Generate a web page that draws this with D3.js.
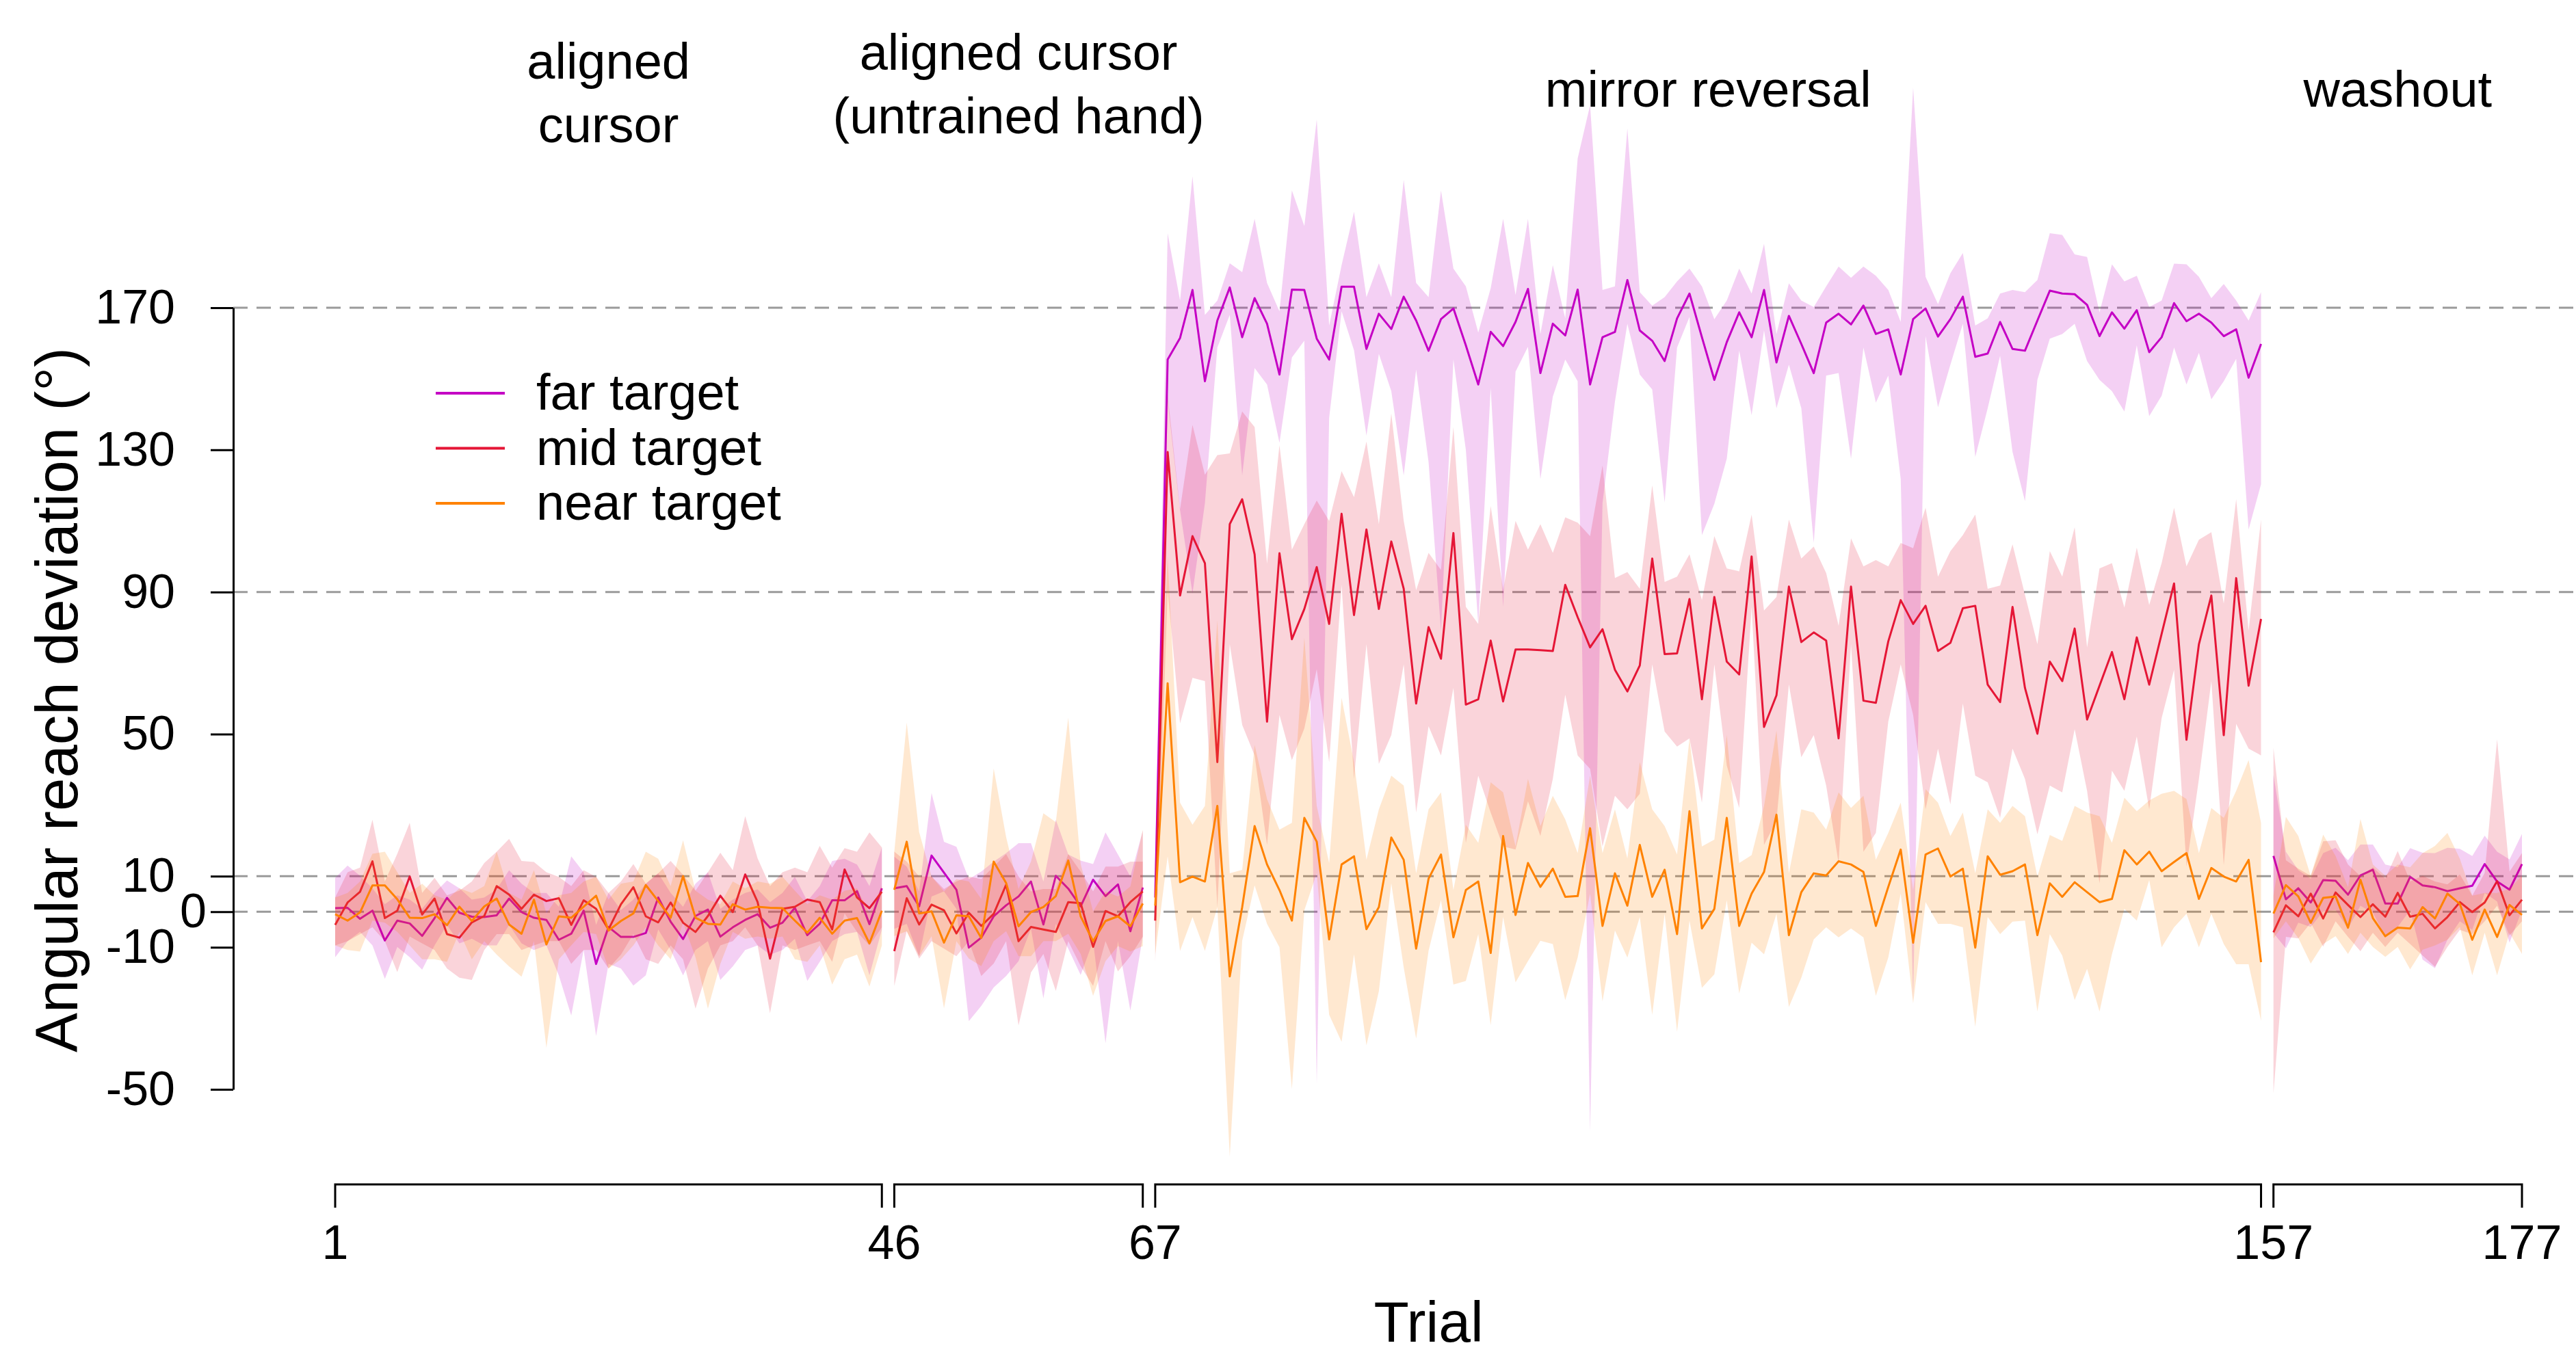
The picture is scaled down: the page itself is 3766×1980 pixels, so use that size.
<!DOCTYPE html>
<html>
<head>
<meta charset="utf-8">
<script src="https://cdn.jsdelivr.net/npm/d3@7"></script>
<style>
  body { margin: 0; background: #ffffff; }
  text { font-family: "Liberation Sans", Arial, sans-serif; fill: #000; }
</style>
</head>
<body>
<div id="chart"></div>
<script>
// Blocks of the experiment (trial numbers)
var blockNames = [["aligned", "cursor"], ["aligned cursor", "(untrained hand)"], ["mirror reversal"], ["washout"]];
var blockStart = [1, 46, 67, 157];
var blockEnd = [45, 66, 156, 177];

var targets = ["far target", "mid target", "near target"];
var xTicks = [1, 46, 67, 157, 177];
var yTicks = [-50, -10, 0, 10, 50, 90, 130, 170];
var refLines = [0, 10, 90, 170];

// far target: mean and confidence band, one value per trial (1-177)
var farMean = [
  1.0, 1.1, -2.0, 0.3, -8.1, -2.5, -3.3, -6.8, -1.8, 3.9,
  -0.3, -1.4, -1.5, -1.0, 3.7, -0.1, -1.7, -2.3, -7.9, -6.2,
  0.3, -14.7, -4.3, -7.1, -7.1, -6.0, 4.0, -2.8, -7.7, -1.2,
  0.6, -7.0, -4.4, -2.3, -0.7, -4.5, -3.1, 1.1, -6.6, -3.4,
  3.2, 3.2, 5.8, -3.5, 6.6,
  6.6, 7.2, 1.5, 15.8, 11.0, 6.2, -10.1, -7.3, -1.3, 1.8,
  4.3, 8.5, -3.6, 10.1, 6.5, 1.5, 9.0, 4.4, 7.7, -5.5, 6.8,
  4.0, 155.4, 161.5, 175.0, 149.3, 166.4, 175.7, 161.7, 172.7, 165.5,
  151.2, 175.1, 175.0, 161.3, 155.4, 175.9, 175.9, 158.4, 168.3, 164.0,
  173.1, 166.4, 157.9, 166.8, 169.8, 159.4, 148.4, 163.2, 159.2, 166.0,
  175.3, 151.6, 165.5, 162.2, 175.1, 148.4, 161.7, 163.2, 177.8, 163.6,
  160.7, 155.0, 167.0, 174.0, 161.7, 149.7, 160.3, 168.7, 161.7, 175.0,
  154.6, 167.7, 159.8, 151.6, 165.8, 168.3, 165.3, 170.6, 162.6, 163.9,
  151.2, 166.8, 169.8, 161.9, 166.8, 173.1, 156.2, 157.1, 166.0, 158.4,
  157.9, 166.4, 174.8, 174.0, 173.8, 170.8, 162.0, 168.7, 164.1, 169.3,
  157.5, 161.7, 171.3, 166.2, 168.3, 165.8, 162.0, 163.9, 150.3, 159.8,
  15.7, 3.5, 6.6, 2.6, 8.9, 8.7, 4.8, 10.2, 11.8, 2.3,
  2.3, 9.8, 7.4, 6.9, 5.8, 6.6, 7.3, 13.4, 8.5, 6.2, 13.4
];
var farLo = [
  -12.8, -8.3, -5.7, -9.5, -18.9, -9.9, -12.8, -16.3, -9.5, -3.7,
  -8.9, -7.6, -9.5, -9.5, -3.7, -8.9, -10.8, -9.5, -17.9, -29.2,
  -10.8, -35.0, -14.7, -16.0, -20.8, -17.9, -5.0, -10.8, -17.9, -10.8,
  -8.3, -19.2, -15.4, -10.8, -9.5, -12.1, -10.8, -7.6, -19.5, -14.1,
  -8.3, -6.3, -5.7, -17.9, -5.0,
  -4.8, -3.4, -12.5, 4.3, 5.7, 0.8, -30.8, -26.5, -21.3, -18.1,
  -13.9, -4.8, -24.4, -3.4, -10.4, -17.8, -8.3, -37.0, -8.3, -27.8, -7.0,
  -10.0, 143.6, 113.0, 89.6, 115.0, 158.8, 168.0, 122.8, 153.0, 148.4,
  132.0, 156.0, 160.7, -48.5, 139.0, 169.0, 158.0, 134.0, 157.0, 146.5,
  122.8, 152.6, 126.6, 79.0, 155.4, 130.0, 81.0, 147.4, 85.8, 152.0,
  159.0, 121.8, 145.0, 155.4, 149.3, -62.0, 115.0, 143.6, 165.5, 151.2,
  147.0, 115.2, 158.8, 167.4, 106.0, 114.8, 127.5, 157.9, 139.8, 163.6,
  141.7, 154.0, 141.7, 103.8, 150.9, 151.6, 127.5, 158.8, 143.3, 150.9,
  121.8, -25.0, 162.0, 142.0, 154.0, 165.5, 128.0, 141.7, 156.5, 129.4,
  115.6, 149.7, 161.3, 162.6, 165.5, 155.0, 149.7, 146.5, 140.8, 159.4,
  139.5, 145.2, 158.8, 148.4, 157.3, 144.2, 149.3, 155.6, 107.6, 120.3,
  -6.0, -10.3, -3.1, -4.3, 0.1, 0.5, -4.7, 1.7, -0.3, -7.1,
  -4.3, 0.5, -13.5, -15.9, -7.9, -2.7, -5.1, 5.3, 2.9, -8.7, 0.5
];
var farHi = [
  9.5, 13.0, 10.1, 6.6, 2.1, 4.6, 3.4, 0.8, 5.3, 8.8,
  6.6, 3.4, 4.0, 6.3, 11.7, 7.9, 5.3, 5.3, 1.4, 15.6,
  11.1, -3.7, 5.3, 0.5, 3.4, 7.9, 10.8, 5.3, 1.4, 7.9,
  11.1, 0.8, 3.4, 5.3, 6.3, 2.7, 5.3, 9.8, 3.0, 7.2,
  14.3, 14.9, 13.3, 7.2, 18.1,
  15.5, 12.7, 5.7, 33.4, 19.7, 18.3, 9.2, 11.3, 14.1, 16.5,
  19.3, 19.3, 8.5, 25.9, 16.1, 14.4, 13.4, 22.3, 16.1, 9.9, 22.8,
  14.0, 191.0, 172.0, 207.0, 168.0, 172.0, 182.5, 180.0, 195.0, 177.0,
  169.0, 203.0, 193.0, 223.0, 165.0, 182.0, 197.0, 173.0, 182.5, 173.0,
  206.0, 177.0, 173.0, 203.0, 181.0, 176.0, 163.0, 175.5, 195.0, 173.6,
  195.0, 162.6, 182.0, 167.0, 212.0, 227.0, 175.0, 176.0, 220.5, 174.4,
  170.6, 173.0, 177.4, 181.0, 176.0, 166.8, 172.0, 181.0, 174.0, 188.0,
  162.6, 176.9, 172.0, 170.2, 176.0, 181.6, 178.4, 181.6, 179.0, 175.0,
  166.0, 232.0, 178.7, 171.0, 179.7, 185.4, 165.0, 167.0, 174.0, 175.0,
  174.4, 177.8, 191.0, 190.5, 185.0, 184.3, 168.7, 182.2, 177.4, 179.0,
  170.2, 172.0, 182.4, 182.2, 178.7, 172.7, 176.7, 172.0, 166.4, 174.4,
  38.5, 16.9, 11.7, 9.3, 16.5, 18.0, 14.5, 18.9, 18.9, 13.3,
  12.5, 17.9, 16.6, 16.5, 18.0, 17.7, 15.7, 21.4, 16.9, 14.7, 21.9
];

// mid target
var midMean = [
  -3.7, 2.6, 5.6, 14.2, -1.8, 0.3, 9.9, -0.8, 3.7, -6.3,
  -7.3, -3.0, -1.2, 7.2, 4.8, 0.8, 4.8, 3.0, 3.8, -3.7,
  3.2, 0.8, -5.0, 2.1, 6.9, -1.3, -3.0, 2.6, -3.1, -5.7,
  -1.2, 4.5, -0.1, 10.5, 2.7, -13.2, 0.8, 1.4, 3.4, 2.7,
  -5.0, 11.9, 4.0, 1.0, 5.6,
  -11.1, 3.8, -3.6, 2.0, 0.4, -6.1, -0.3, -4.0, -0.6, 7.6,
  -8.3, -4.3, -5.0, -5.7, 2.7, 2.4, -9.9, 0.2, -1.3, 2.7, 5.7,
  -2.5, 129.4, 89.0, 105.7, 98.1, 42.1, 109.1, 116.1, 100.6, 53.5,
  100.9, 76.7, 85.2, 97.0, 81.0, 112.0, 83.5, 107.6, 85.2, 104.2,
  90.9, 58.6, 80.1, 71.2, 106.6, 58.3, 59.8, 76.3, 59.2, 73.8,
  73.8, 73.6, 73.4, 92.0, 82.9, 74.4, 79.5, 68.1, 62.0, 69.3,
  99.4, 72.5, 72.7, 88.0, 59.8, 88.6, 70.4, 66.8, 100.0, 52.0,
  60.9, 91.5, 75.9, 78.6, 76.3, 48.8, 91.5, 59.4, 58.8, 76.1,
  87.7, 81.0, 86.1, 73.4, 75.7, 85.4, 86.1, 63.9, 59.0, 85.8,
  63.0, 50.1, 70.4, 64.9, 79.7, 54.1, 63.6, 73.1, 59.8, 77.2,
  63.9, 78.2, 92.4, 48.4, 75.3, 89.0, 49.7, 93.9, 63.6, 82.4,
  -5.8, 1.8, -1.3, 5.1, -1.9, 5.4, 1.9, -1.5, 2.1, -1.4,
  5.3, -1.4, -0.6, -4.7, -1.5, 2.7, -0.1, 2.6, 8.6, -1.0, 3.4
];
var midLo = [
  -9.5, -8.3, -6.3, -4.4, -8.3, -17.0, -7.0, -8.9, -10.8, -16.0,
  -18.6, -19.2, -10.8, -6.3, -6.3, -10.8, -9.5, -8.3, -8.3, -14.7,
  -10.8, -10.8, -16.0, -12.1, -6.3, -13.4, -14.7, -9.5, -13.4, -27.3,
  -16.0, -9.5, -8.3, -4.4, -9.5, -28.6, -9.5, -10.8, -9.5, -8.3,
  -14.1, -0.5, -5.7, -9.5, -4.4,
  -20.9, -5.5, -13.2, -8.3, -10.4, -12.5, -8.3, -18.1, -14.6, -8.3,
  -32.0, -17.1, -11.9, -22.3, -8.3, -15.3, -20.9, -8.3, -16.8, -12.5, -7.0,
  -14.0, 90.5, 53.0, 65.8, 64.9, 1.3, 75.3, 52.6, 44.0, 18.8,
  55.4, 42.7, 51.6, 68.3, 42.1, 92.0, 37.4, 75.3, 41.6, 49.7,
  69.6, 27.9, 52.2, 44.0, 63.0, 19.4, 38.3, 27.9, 18.4, 17.5,
  31.1, 21.3, 37.4, 61.1, 44.0, 40.2, 18.4, 32.6, 28.8, 33.2,
  69.6, 50.7, 46.5, 48.8, 30.7, 69.6, 41.2, 29.2, 85.8, 18.8,
  25.6, 64.0, 43.5, 49.7, 35.5, 13.7, 75.3, 16.9, 22.2, 53.5,
  69.6, 55.4, 28.8, 45.9, 30.2, 58.6, 38.3, 36.4, 26.4, 45.9,
  37.4, 21.8, 35.5, 33.6, 51.4, 34.0, 8.0, 39.7, 34.0, 49.3,
  28.8, 54.5, 68.1, 12.7, 37.4, 64.9, 13.1, 52.9, 45.9, 44.0,
  -51.1, -7.1, -7.5, -3.1, -9.8, -2.7, -7.1, -11.1, -5.9, -9.9,
  -5.9, -9.1, -12.3, -15.5, -9.9, -5.1, -6.3, -2.7, 1.7, -6.7, -2.7
];
var midHi = [
  4.0, 11.1, 12.4, 25.9, 8.5, 16.3, 25.0, 5.3, 9.5, 4.6,
  5.9, 8.5, 13.7, 16.9, 20.5, 14.3, 14.0, 11.1, 9.8, 7.2,
  11.7, 9.8, 5.3, 8.5, 13.4, 7.9, 10.8, 14.3, 10.4, 5.9,
  11.1, 16.6, 11.7, 26.9, 15.0, 7.2, 11.1, 12.4, 11.1, 18.5,
  12.4, 17.9, 16.9, 22.3, 18.1,
  16.9, 14.1, 9.9, 9.9, 6.4, 8.5, 9.9, 9.2, 12.7, 16.2,
  9.9, 5.7, 6.4, 6.4, 16.2, 11.3, 5.7, 12.7, 12.7, 14.1, 14.1,
  8.0, 145.5, 113.3, 137.0, 123.0, 128.5, 129.0, 140.8, 136.4, 98.0,
  131.3, 101.9, 109.1, 115.7, 110.0, 124.0, 116.7, 132.3, 109.1, 140.2,
  110.0, 90.5, 101.0, 96.2, 136.4, 85.8, 81.0, 114.2, 90.5, 110.0,
  101.9, 109.1, 101.0, 111.0, 109.5, 105.7, 125.6, 93.9, 95.6, 90.9,
  120.0, 92.8, 94.3, 100.6, 87.7, 105.7, 96.6, 95.8, 111.8, 84.8,
  88.6, 110.4, 99.4, 102.8, 95.3, 80.5, 105.1, 97.2, 99.0, 97.2,
  103.8, 102.3, 113.7, 94.3, 101.5, 106.0, 111.8, 90.9, 91.8, 103.4,
  89.2, 75.3, 101.5, 94.3, 108.2, 74.4, 96.6, 98.1, 85.6, 102.5,
  86.3, 98.1, 113.7, 97.2, 104.7, 106.8, 86.7, 116.1, 79.1, 110.4,
  46.1, 14.5, 12.1, 10.1, 19.8, 20.1, 13.3, 10.0, 12.5, 9.3,
  17.1, 8.5, 10.1, 8.5, 7.7, 10.5, 4.5, 10.9, 48.5, 11.3, 16.5
];

// near target
var nearMean = [
  -0.7, -2.5, -0.2, 7.4, 7.4, 3.5, -1.7, -1.8, -0.7, -3.8,
  1.4, -2.6, 1.5, 3.7, -3.6, -6.2, 3.4, -9.2, -1.3, -1.7,
  1.4, 4.5, -5.3, -2.6, -0.5, 7.5, 3.0, -1.7, 10.0, -1.7,
  -3.4, -3.6, 2.1, 0.6, 1.4, 1.1, 1.0, -2.5, -5.9, -1.7,
  -6.2, -2.5, -1.8, -8.9, 0.3,
  6.2, 19.7, -0.5, 0.1, -8.7, -1.0, -1.3, -7.4, 14.1, 8.1,
  -4.1, -0.1, 1.3, 4.4, 14.4, -1.3, -8.3, -2.6, -1.3, -4.1, 2.3,
  1.7, 64.3, 8.3, 9.9, 8.5, 29.8, -18.2, 1.3, 24.1, 13.3,
  6.1, -2.5, 26.4, 19.7, -7.8, 13.3, 15.6, -4.9, 1.3, 20.9,
  14.6, -10.4, 9.3, 16.1, -7.2, 6.1, 8.5, -11.6, 21.3, -0.9,
  13.7, 7.0, 12.1, 4.2, 4.4, 23.5, -4.0, 10.8, 1.7, 18.8,
  4.2, 11.8, -6.3, 28.3, -4.7, 0.8, 26.4, -4.0, 5.1, 11.2,
  27.3, -6.6, 5.5, 10.8, 10.2, 14.2, 13.3, 11.2, -4.0, 7.0,
  17.5, -8.7, 16.1, 17.8, 9.9, 12.1, -10.1, 15.6, 10.4, 11.4,
  13.3, -6.6, 8.0, 4.2, 8.3, 5.5, 2.7, 3.6, 17.3, 13.3,
  16.9, 11.4, 14.0, 16.5, 3.6, 12.3, 9.9, 8.5, 14.6, -14.2,
  -0.5, 7.5, 4.3, -3.1, 3.9, 4.3, -4.5, 9.0, -1.8, -6.9,
  -4.5, -4.7, 1.3, -1.9, 5.1, 2.2, -7.9, 0.6, -7.1, 1.9, -0.9
];
var nearLo = [
  -9.5, -10.8, -11.2, -2.5, -3.1, -5.7, -9.5, -13.4, -13.4, -14.1,
  -5.7, -13.4, -8.3, -12.1, -15.4, -18.3, -8.3, -38.3, -13.4, -9.5,
  -5.7, -6.3, -16.0, -13.4, -9.5, -4.4, -9.5, -13.4, -3.1, -12.8,
  -27.3, -14.7, -5.7, -7.6, -7.0, -7.6, -7.0, -13.4, -14.1, -9.5,
  -20.5, -13.4, -12.1, -21.1, -9.5,
  -6.9, -5.5, -12.5, -6.9, -27.2, -8.3, -13.2, -15.3, -8.3, -5.5,
  -12.5, -12.5, -8.3, -8.3, -6.2, -11.9, -23.7, -13.9, -9.7, -11.2, -9.7,
  -12.0, 15.6, -11.0, -1.5, -11.0, 1.3, -68.9, -8.2, 7.4, -3.4,
  -10.0, -49.9, 0.4, 10.8, -29.0, -36.6, -12.0, -37.6, -22.4, 8.0,
  -15.7, -35.7, -11.0, 3.2, -20.5, -19.5, -6.3, -31.9, -1.5, -19.9,
  -13.9, -8.2, -9.1, -24.9, -12.9, 5.1, -25.2, -5.3, -12.9, -1.5,
  -29.0, -0.6, -33.8, -2.5, -21.4, -17.6, 3.2, -23.0, -8.7, -12.0,
  -0.6, -26.8, -18.6, -7.8, -4.4, -7.2, -4.7, -7.2, -23.7, -12.9,
  5.1, -25.8, 2.7, -3.4, -3.4, -4.4, -32.4, -1.5, -6.3, -2.8,
  -2.5, -28.1, -6.3, -12.3, -24.9, -16.1, -28.1, -12.0, 0.8, -2.5,
  8.9, -10.0, -4.4, -0.6, -10.0, -0.6, -9.1, -14.8, -14.8, -30.7,
  -7.5, -2.7, -7.4, -14.6, -9.1, -6.9, -11.9, -5.9, -9.9, -12.7,
  -9.9, -16.2, -10.7, -9.5, -7.9, -4.3, -17.9, -5.9, -17.9, -5.9, -11.9
];
var nearHi = [
  4.0, 5.3, 8.5, 16.3, 16.9, 11.1, 5.3, 7.9, 4.6, 3.4,
  6.6, 5.3, 7.2, 16.9, 5.3, 3.4, 11.7, -0.5, 4.6, 5.3,
  8.5, 9.8, 3.4, 7.9, 8.5, 16.9, 14.9, 7.2, 20.1, 5.9,
  3.4, 2.1, 8.5, 6.6, 8.5, 7.9, 9.8, 5.9, 2.1, 4.6,
  3.4, 5.9, 6.6, -0.5, 7.2,
  16.9, 53.2, 22.4, 9.9, 5.7, 9.2, 8.5, 3.6, 40.3, 21.0,
  6.4, 14.1, 27.7, 25.2, 54.6, 13.4, 0.1, 5.7, 4.3, 7.1, 23.1,
  12.0, 100.0, 30.7, 24.5, 29.8, 82.0, 10.8, 11.8, 46.9, 31.7,
  23.1, 25.0, 77.2, 29.8, 13.7, 60.2, 42.1, 14.6, 28.8, 38.3,
  35.5, 10.8, 28.8, 33.6, 6.1, 24.5, 19.4, 36.4, 33.6, 18.4,
  37.4, 24.1, 32.6, 26.0, 16.5, 38.3, 16.5, 28.8, 15.0, 42.1,
  28.8, 24.1, 16.1, 48.8, 18.4, 20.3, 49.7, 13.7, 15.9, 29.8,
  51.0, 10.8, 28.8, 27.9, 23.1, 33.6, 29.2, 32.6, 14.6, 22.2,
  30.7, 6.1, 34.5, 30.7, 21.3, 27.9, 10.8, 28.8, 25.0, 29.8,
  26.9, 9.9, 21.6, 19.9, 29.8, 27.9, 26.9, 19.4, 32.1, 28.3,
  31.3, 33.2, 34.0, 31.7, 16.5, 29.2, 26.4, 34.0, 42.7, 25.0,
  4.5, 26.7, 21.3, 10.1, 21.7, 15.7, 6.9, 26.1, 13.3, 10.1,
  13.3, 12.5, 16.5, 18.5, 22.2, 14.9, 4.5, 5.3, 5.3, 6.5, 10.1
];

// Colours: solid for lines, transparent for the bands
var lineColors = ["#c400c4", "#e51636", "#ff8200"];
var bandOpacity = 0.184;

// Define SVG area dimensions
var svgWidth = 3766;
var svgHeight = 1980;

var svg = d3.select("#chart")
  .append("svg")
  .attr("width", svgWidth)
  .attr("height", svgHeight)
  .style("background", "#fff");

// Scales
var xScale = d3.scaleLinear()
  .domain([1, 177])
  .range([490, 3687]);

var yScale = d3.scaleLinear()
  .domain([-50, 170])
  .range([1593, 450]);

var axisX = 341;

// Dashed reference lines
svg.append("g")
  .selectAll("line")
  .data(refLines)
  .enter()
  .append("line")
  .attr("x1", axisX)
  .attr("x2", svgWidth)
  .attr("y1", d => yScale(d))
  .attr("y2", d => yScale(d))
  .attr("stroke", "#9a9a9a")
  .attr("stroke-width", 3)
  .attr("stroke-dasharray", "21,13");

var series = [
  { mean: farMean, lo: farLo, hi: farHi },
  { mean: midMean, lo: midLo, hi: midHi },
  { mean: nearMean, lo: nearLo, hi: nearHi }
];

var area = d3.area()
  .x(d => xScale(d.t))
  .y0(d => yScale(d.lo))
  .y1(d => yScale(d.hi));

var line = d3.line()
  .x(d => xScale(d.t))
  .y(d => yScale(d.m));

var dataGroup = svg.append("g");

// band then line, per target, per block
series.forEach(function(s, i) {
  blockStart.forEach(function(b0, b) {
    var pts = d3.range(b0, blockEnd[b] + 1).map(function(t) {
      return { t: t, m: s.mean[t - 1], lo: s.lo[t - 1], hi: s.hi[t - 1] };
    });
    dataGroup.append("path")
      .datum(pts)
      .attr("d", area)
      .attr("fill", lineColors[i])
      .attr("fill-opacity", bandOpacity)
      .attr("stroke", "none");
    dataGroup.append("path")
      .datum(pts)
      .attr("d", line)
      .attr("fill", "none")
      .attr("stroke", lineColors[i])
      .attr("stroke-width", 3)
      .attr("stroke-linejoin", "round");
  });
});

// Y axis
var leftAxis = d3.axisLeft(yScale)
  .tickValues(yTicks)
  .tickSize(33)
  .tickSizeOuter(0)
  .tickPadding(52)
  .tickFormat(d => String(d));

var yAxisGroup = svg.append("g")
  .attr("transform", `translate(${axisX}, 0)`)
  .call(leftAxis);

yAxisGroup.selectAll("path, line")
  .attr("stroke", "#000")
  .attr("stroke-width", 3);

yAxisGroup.selectAll("text")
  .attr("font-size", 70)
  .attr("font-family", "Liberation Sans, Arial, sans-serif")
  .attr("fill", "#000");

// the 0 label sits closer to the axis so it does not collide with 10 and -10
yAxisGroup.selectAll(".tick")
  .filter(d => d === 0)
  .select("text")
  .attr("x", -39);

// X axis: one bracket per block
var bracketY = 1732;
var bracketTick = 34;

svg.append("g")
  .selectAll("path")
  .data(blockStart)
  .enter()
  .append("path")
  .attr("d", (d, i) => `M${xScale(d)},${bracketY + bracketTick}V${bracketY}H${xScale(blockEnd[i])}V${bracketY + bracketTick}`)
  .attr("fill", "none")
  .attr("stroke", "#000")
  .attr("stroke-width", 3);

svg.append("g")
  .selectAll("text")
  .data(xTicks)
  .enter()
  .append("text")
  .attr("x", d => xScale(d))
  .attr("y", 1841)
  .attr("text-anchor", "middle")
  .attr("font-size", 70)
  .text(d => d);

// Axis titles
svg.append("text")
  .attr("x", (xScale(1) + xScale(177)) / 2)
  .attr("y", 1962)
  .attr("text-anchor", "middle")
  .attr("font-size", 84)
  .text("Trial");

svg.append("text")
  .attr("transform", `translate(113, ${(yScale(170) + yScale(-50)) / 2 + 2}) rotate(-90)`)
  .attr("text-anchor", "middle")
  .attr("font-size", 87)
  .text("Angular reach deviation (°)");

// Block titles
var titleTop = [115, 102, 156, 156];
blockNames.forEach(function(lines, b) {
  var cx = xScale((blockStart[b] + blockEnd[b]) / 2);
  lines.forEach(function(txt, j) {
    svg.append("text")
      .attr("x", cx)
      .attr("y", titleTop[b] + j * 93)
      .attr("text-anchor", "middle")
      .attr("font-size", 74)
      .text(txt);
  });
});

// Legend
var legend = svg.append("g");
targets.forEach(function(name, i) {
  var ly = 575 + i * 80.5;
  legend.append("line")
    .attr("x1", 637)
    .attr("x2", 738)
    .attr("y1", ly)
    .attr("y2", ly)
    .attr("stroke", lineColors[i])
    .attr("stroke-width", 4);
  legend.append("text")
    .attr("x", 784)
    .attr("y", ly + 24)
    .attr("font-size", 74)
    .text(name);
});
</script>
</body>
</html>
